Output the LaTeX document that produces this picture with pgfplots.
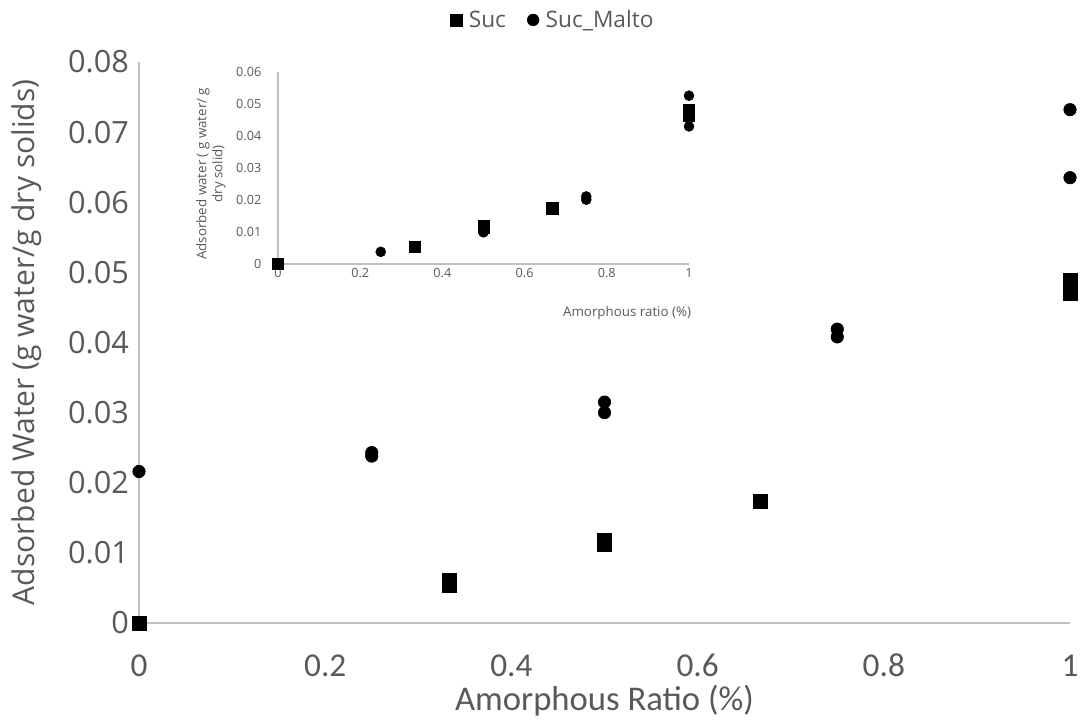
\documentclass[border=0pt]{standalone}
\usepackage{fontspec}
\setmainfont{Open Sans}
\newfontfamily\calfont{Carlito}
\usepackage{pgfplots}
\pgfplotsset{compat=1.18}
\definecolor{txt}{HTML}{595959}
\definecolor{axl}{HTML}{BFBFBF}
\begin{document}
\begin{tikzpicture}
\useasboundingbox (0,0) rectangle (813pt,542.25pt);
% main axis
\begin{axis}[
  at={(104.25pt,75pt)}, anchor=south west,
  scale only axis, width=698.25pt, height=420.75pt,
  xmin=0, xmax=1, ymin=0, ymax=0.08,
  clip=false,
  axis x line=bottom, axis y line=left,
  axis line style={draw=axl, line width=1pt, -},
  major tick length=0pt,
  xtick={0,0.2,0.4,0.6,0.8,1},
  ytick={0,0.01,0.02,0.03,0.04,0.05,0.06,0.07,0.08},
  scaled y ticks=false, scaled x ticks=false,
  /pgf/number format/assume math mode=true,
  yticklabel style={font=\fontsize{23}{23}\selectfont, text=txt, xshift=-4pt, /pgf/number format/fixed, /pgf/number format/precision=2},
  xticklabel style={font=\calfont\fontsize{25}{25}\selectfont, text=txt, anchor=base, yshift=-40pt},
  xlabel={Amorphous Ratio (\%)},
  xlabel style={font=\calfont\fontsize{26}{26}\selectfont, text=txt, at={(axis description cs:0.5,-0.138)}, anchor=center},
  ylabel={Adsorbed Water (g water/g dry solids)},
  ylabel style={font=\fontsize{22.5}{22.5}\selectfont, text=txt, at={(axis description cs:-0.1203,0.5)}, anchor=center},
  legend style={draw=none, fill=none, at={(rel axis cs:0.445,1.075)}, anchor=center,
    font=\fontsize{17}{17}\selectfont, text=txt, legend columns=2,
    /tikz/every even column/.append style={column sep=14pt}},
  legend cell align=left,
]
\addplot[only marks, mark=square*, mark size=5.4pt, black, legend image post style={mark size=4.4pt}] coordinates {
  (0,0) (0.333,0.0054) (0.333,0.0060) (0.5,0.0113) (0.5,0.0118)
  (0.667,0.0174) (1,0.0471) (1,0.0488)
};
\addlegendentry{\hspace{3pt}Suc}
\addplot[only marks, mark=*, mark size=4.7pt, black, legend image post style={mark size=4.4pt}] coordinates {
  (0,0.0216) (0.25,0.0238) (0.25,0.0243) (0.5,0.0300) (0.5,0.0315)
  (0.75,0.0408) (0.75,0.0419) (1,0.0635) (1,0.0732)
};
\addlegendentry{\hspace{3pt}Suc\_Malto}
\end{axis}
% inset axis
\begin{axis}[
  at={(208.5pt,344.25pt)}, anchor=south west,
  scale only axis, width=308.25pt, height=144pt,
  xmin=0, xmax=1, ymin=0, ymax=0.06,
  clip=false,
  axis x line=bottom, axis y line=left,
  axis line style={draw=axl, line width=0.8pt, -},
  major tick length=0pt,
  xtick={0,0.2,0.4,0.6,0.8,1},
  ytick={0,0.01,0.02,0.03,0.04,0.05,0.06},
  scaled y ticks=false, scaled x ticks=false,
  /pgf/number format/assume math mode=true,
  yticklabel style={font=\fontsize{9.5}{9.5}\selectfont, text=txt, xshift=-9pt, /pgf/number format/fixed, /pgf/number format/precision=2},
  xticklabel style={font=\fontsize{9.5}{9.5}\selectfont, text=txt, anchor=center, yshift=-7pt},
  xlabel={Amorphous ratio (\%)},
  xlabel style={font=\fontsize{10}{10}\selectfont, text=txt, at={(axis description cs:1,0)}, anchor=east, xshift=5pt, yshift=-36.75pt},
  ylabel={Adsorbed water ( g water/ g\\dry solid)},
  ylabel style={font=\fontsize{10}{12}\selectfont, text=txt, align=center, at={(axis description cs:-0.163,0.47)}, anchor=center},
]
\addplot[only marks, mark=square*, mark size=4.3pt, black] coordinates {
  (0,0) (0.333,0.0054) (0.5,0.0114) (0.5,0.0120)
  (0.667,0.0174) (1,0.0464) (1,0.0480)
};
\addplot[only marks, mark=*, mark size=3.75pt, black] coordinates {
  (0.25,0.0038) (0.5,0.0099) (0.75,0.0201) (0.75,0.0211)
  (1,0.0430) (1,0.0526)
};
\end{axis}
\end{tikzpicture}
\end{document}
